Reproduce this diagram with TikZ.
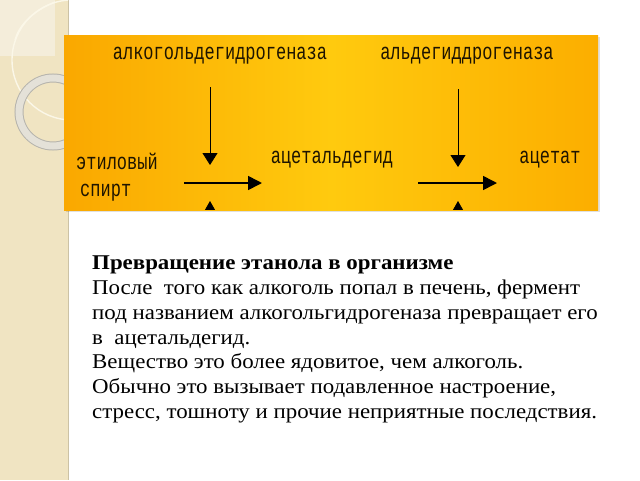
\documentclass[tikz,border=0pt]{standalone}
\usepackage{fontspec}
\usepackage{graphicx}
\setmainfont{Liberation Serif}
\newfontfamily\monocyr{Liberation Mono}
\newfontfamily\bodyfont[FakeStretch=1.09]{Liberation Serif}
\usetikzlibrary{positioning,arrows.meta}
\definecolor{stripbg}{RGB}{240,228,194}
\definecolor{stripsq}{RGB}{244,237,218}
\definecolor{ringcol}{RGB}{228,225,216}
\definecolor{arccol}{RGB}{251,247,232}
\definecolor{boxleft}{RGB}{250,168,0}
\definecolor{boxmid}{RGB}{255,202,14}
\definecolor{boxright}{RGB}{252,174,0}
\definecolor{chemtext}{RGB}{30,20,0}
\newcommand{\tallt}[1]{\scalebox{1}[1.35]{#1}}
\tikzset{
    chem/.style={font=\monocyr\fontsize{17}{20}\selectfont, text=chemtext, inner sep=0pt},
    enzarrow/.style={line width=0.8pt, -{Triangle[length=12pt,width=15pt]}},
    reactarrow/.style={line width=1.6pt, -{Triangle[length=14pt,width=14pt]}},
    cofarrow/.style={line width=0.8pt, -{Triangle[length=9pt,width=10pt]}}
}
\begin{document}
\begin{tikzpicture}[x=1pt,y=-1pt]
        \useasboundingbox (0,0) rectangle (640,480);
        \fill[white] (0,0) rectangle (640,480);
        % decorative strip
        \fill[stripbg] (0,0) rectangle (68,480);
        \fill[stripsq] (0,0) rectangle (55,56);
        \draw[stripbg!85!black, line width=0.6pt] (68,0) -- (68,480);
        \begin{scope}
            \clip (0,0) rectangle (68,480);
            \draw[arccol, line width=1.4pt] (72,60) circle (60);
            \draw[arccol, line width=1.4pt] (55,2) .. controls (30,12) and (18,28) .. (15,40);
            \draw[ringcol!80!black, line width=9pt] (53,112) circle (34);
            \draw[ringcol, line width=7pt] (53,112) circle (34);
        \end{scope}
        % orange box
        \fill[black, opacity=0.12] (66,37) rectangle (600,212);
        \shade[left color=boxleft, right color=boxright, middle color=boxmid] (64,35) rectangle (598,210);
        \node[chem] (adh) at (220,56) {\tallt{алкогольдегидрогеназа}};
        \node[chem] (aldh) at (467,56) {\tallt{альдегиддрогеназа}};
        \node[chem] (ethanol) at (117,161) {\tallt{этиловый}};
        \node[chem, anchor=west] (spirt) at (80,193) {\tallt{спирт}};
        \node[chem] (acetald) at (332,160) {\tallt{ацетальдегид}};
        \node[chem] (acetate) at (550,160) {\tallt{ацетат}};
        \coordinate (adhtop) at (210,87);
        \coordinate (adhend) at (210,165);
        \coordinate (aldhtop) at (458,89);
        \coordinate (aldhend) at (458,167);
        \coordinate (stepAin) at (184,183);
        \coordinate (stepAout) at (262,183);
        \coordinate (stepBin) at (418,183);
        \coordinate (stepBout) at (497,183);
        \draw[enzarrow] (adhtop) -- (adhend);
        \draw[enzarrow] (aldhtop) -- (aldhend);
        \draw[reactarrow] (stepAin) -- (stepAout);
        \draw[reactarrow] (stepBin) -- (stepBout);
        \begin{scope}
            \clip (64,35) rectangle (598,209);
            \coordinate (cofAbot) at (210,240);
            \coordinate (cofAtip) at (210,201);
            \coordinate (cofBbot) at (458,240);
            \coordinate (cofBtip) at (458,201);
            \draw[cofarrow] (cofAbot) -- (cofAtip);
            \draw[cofarrow] (cofBbot) -- (cofBtip);
        \end{scope}
        % text below
        \node[anchor=north west, inner sep=0pt, align=left,
              font=\bodyfont\fontsize{21}{24.7}\selectfont] (story) at (92,256)
            {\textbf{Превращение этанола в организме}\\
             После \ того как алкоголь попал в печень, фермент\\
             под названием алкогольгидрогеназа превращает его\\
             в \ ацетальдегид.\\
             Вещество это более ядовитое, чем алкоголь.\\
             Обычно это вызывает подавленное настроение,\\
             стресс, тошноту и прочие неприятные последствия.};
\end{tikzpicture}
\end{document}
